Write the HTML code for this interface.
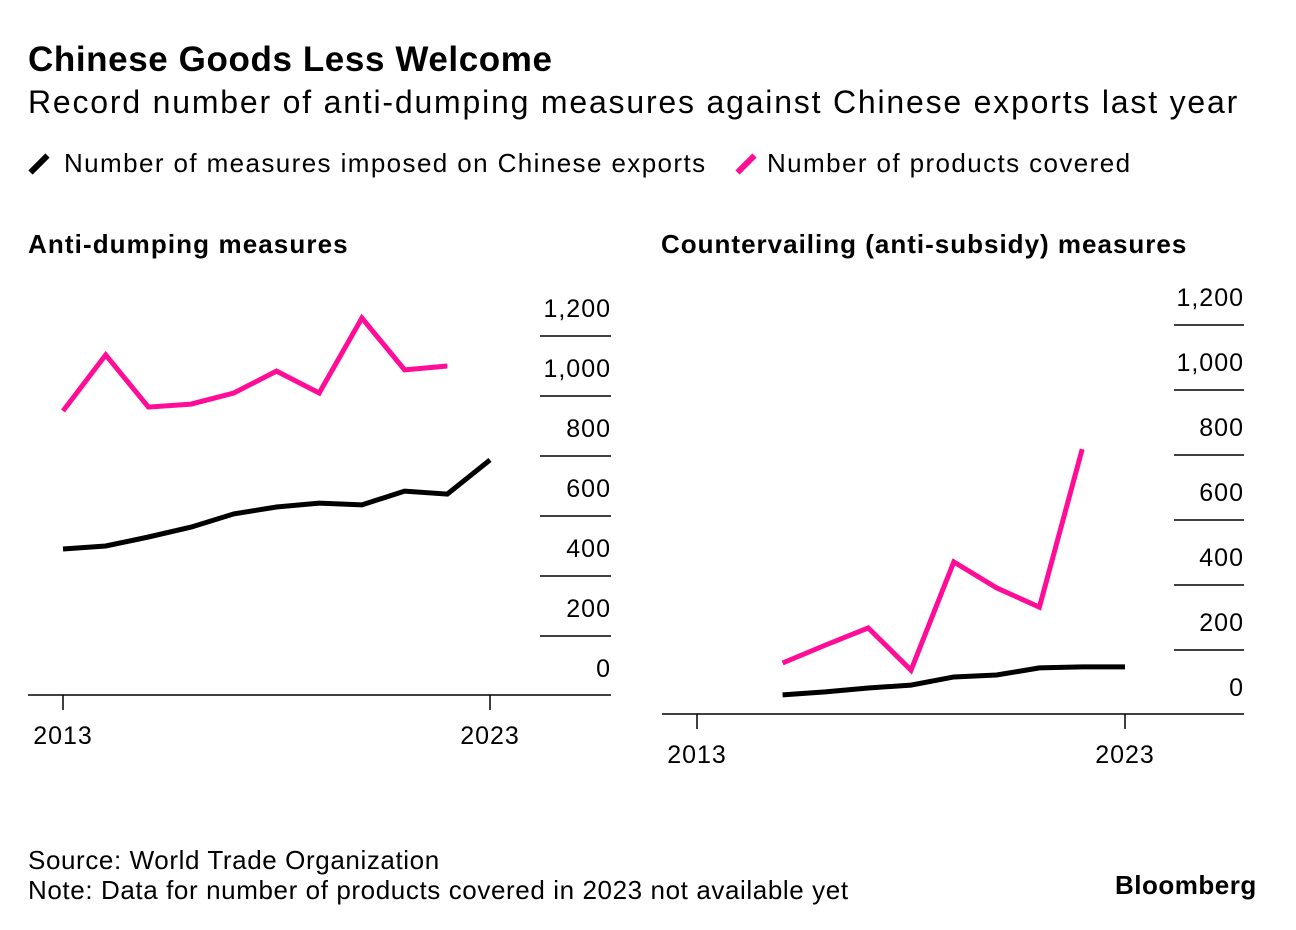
<!DOCTYPE html>
<html><head><meta charset="utf-8"><style>
body{margin:0;background:#fff;font-family:"Liberation Sans",sans-serif;color:#000}
.t{position:absolute;white-space:nowrap}
</style></head><body>
<div style="position:relative;width:1296px;height:930px;overflow:hidden">
<div class="t" style="left:28px;top:40px;font-size:35px;font-weight:bold;letter-spacing:0.6px">Chinese Goods Less Welcome</div>
<div class="t" style="left:28px;top:84px;font-size:32px;letter-spacing:1.8px">Record number of anti-dumping measures against Chinese exports last year</div>
<div class="t" style="left:28px;top:148px;font-size:26px;letter-spacing:1.4px"><span style="display:inline-block;width:6px;height:24px;background:#000;transform:rotate(45deg);vertical-align:-4px;margin:0 22px 0 8px"></span>Number of measures imposed on Chinese exports</div>
<div class="t" style="left:735px;top:148px;font-size:26px;letter-spacing:1.4px"><span style="display:inline-block;width:6px;height:24px;background:#ff0d97;transform:rotate(45deg);vertical-align:-4px;margin:0 18px 0 8px"></span>Number of products covered</div>
<div class="t" style="left:28px;top:229px;font-size:26px;font-weight:bold;letter-spacing:1.1px">Anti-dumping measures</div>
<div class="t" style="left:661px;top:229px;font-size:26px;font-weight:bold;letter-spacing:1.0px">Countervailing (anti-subsidy) measures</div>
<svg id="svg" width="1296" height="930" style="position:absolute;left:0;top:0"></svg>
<div class="t" style="left:28px;top:845px;font-size:26px;letter-spacing:0.6px">Source: World Trade Organization</div>
<div class="t" style="left:28px;top:875px;font-size:26px;letter-spacing:0.6px">Note: Data for number of products covered in 2023 not available yet</div>
<div class="t" style="left:1115px;top:870px;font-size:26px;font-weight:bold;letter-spacing:0.5px">Bloomberg</div>
</div>
<script>
const yTicks=[0,200,400,600,800,1000,1200];
const tickLabels=["0","200","400","600","800","1,000","1,200"];
const xLabels=["2013","2023"];
const adYears=[2013,2014,2015,2016,2017,2018,2019,2020,2021,2022,2023];
const adMeasures=[490,500,530,563,607,630,643,637,683,673,787];
const adProductYears=[2013,2014,2015,2016,2017,2018,2019,2020,2021,2022];
const adProducts=[950,1137,963,973,1010,1083,1010,1260,1087,1100];
const cvYears=[2015,2016,2017,2018,2019,2020,2021,2022,2023];
const cvMeasures=[62,71,83,92,117,123,145,148,148];
const cvProductYears=[2015,2016,2017,2018,2019,2020,2021,2022];
const cvProducts=[160,215,268,138,471,391,332,818];
const NS="http://www.w3.org/2000/svg";
const svg=document.getElementById('svg');
function mk(tag,attrs){const e=document.createElementNS(NS,tag);for(const k in attrs)e.setAttribute(k,attrs[k]);svg.appendChild(e);return e;}
function panel(p,name){
  const x=y=>p.x0+(y-2013)*(p.x1-p.x0)/10;
  const y=v=>p.y0-v*p.k;
  yTicks.forEach((t,i)=>{
    if(t>0){const g=mk('line',{x1:p.gx0,x2:p.gx1,y1:y(t),y2:y(t),stroke:'#000','stroke-width':1.5});
    }
    const tx=mk('text',{x:p.gx1,y:y(t)-19,'text-anchor':'end','font-size':25,'letter-spacing':1,'font-family':'Liberation Sans, sans-serif'});
    tx.textContent=tickLabels[i];
    
  });
  const ax=mk('line',{x1:p.ax0,x2:p.gx1,y1:p.y0-1,y2:p.y0-1,stroke:'#000','stroke-width':1.5});
  
  [2013,2023].forEach((yr,i)=>{
    const l=mk('line',{x1:x(yr),x2:x(yr),y1:p.y0-1,y2:p.y0+14,stroke:'#000','stroke-width':1.5});
    
    const t=mk('text',{x:x(yr),y:p.y0+48,'text-anchor':'middle','font-size':25,'letter-spacing':1,'font-family':'Liberation Sans, sans-serif'});
    t.textContent=xLabels[i];
    
  });
  [[p.py,p.pv,'#ff0d97','products-line'],[p.my,p.mv,'#000','measures-line']].forEach(s=>{
    const d=s[0].map((yr,i)=>(i?'L':'M')+x(yr)+' '+y(s[1][i])).join(' ');
    const pa=mk('path',{d:d,fill:'none',stroke:s[2],'stroke-width':5,'stroke-linejoin':'miter'});
    
  });
}
panel({x0:63,x1:490,y0:696,k:0.3,gx0:540,gx1:611,ax0:28,my:adYears,mv:adMeasures,py:adProductYears,pv:adProducts},'anti-dumping');
panel({x0:697,x1:1125,y0:715,k:0.325,gx0:1174,gx1:1244,ax0:662,my:cvYears,mv:cvMeasures,py:cvProductYears,pv:cvProducts},'countervailing');
</script>
</body></html>
